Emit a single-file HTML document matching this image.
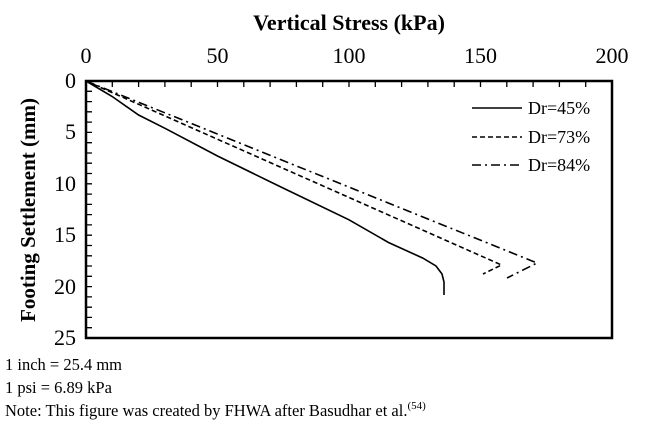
<!DOCTYPE html>
<html><head><style>body{margin:0;background:#fff}</style></head><body>
<svg width="663" height="426" xmlns="http://www.w3.org/2000/svg" font-family="Liberation Serif, serif">
<rect width="663" height="426" fill="#fff"/>
<text x="349" y="30" font-size="22" font-weight="bold" text-anchor="middle">Vertical Stress (kPa)</text>
<g font-size="22" text-anchor="middle">
<text x="86" y="63">0</text><text x="217.5" y="63">50</text><text x="349" y="63">100</text><text x="480.5" y="63">150</text><text x="612" y="63">200</text>
</g>
<g font-size="22" text-anchor="end">
<text x="76" y="88">0</text><text x="76" y="139">5</text><text x="76" y="191">10</text><text x="76" y="242">15</text><text x="76" y="294">20</text><text x="76" y="345">25</text>
</g>
<text transform="translate(35,210) rotate(-90)" font-size="21" font-weight="bold" text-anchor="middle">Footing Settlement (mm)</text>
<rect x="86" y="81" width="526" height="257" fill="none" stroke="#000" stroke-width="2.5"/>
<g stroke="#000" stroke-width="1.3">
<path d="M112.3 81v6M138.6 81v6M164.9 81v6M191.2 81v6M217.5 81v6M243.8 81v6M270.1 81v6M296.4 81v6M322.7 81v6M349 81v6M375.3 81v6M401.6 81v6M427.9 81v6M454.2 81v6M480.5 81v6M506.8 81v6M533.1 81v6M559.4 81v6M585.7 81v6"/>
<path d="M86 91.3h6M86 101.6h6M86 111.8h6M86 122.1h6M86 132.4h6M86 142.7h6M86 153h6M86 163.2h6M86 173.5h6M86 183.8h6M86 194.1h6M86 204.4h6M86 214.6h6M86 224.9h6M86 235.2h6M86 245.5h6M86 255.8h6M86 266h6M86 276.3h6M86 286.6h6M86 296.9h6M86 307.2h6M86 317.4h6M86 327.7h6"/>
</g>
<g fill="none" stroke="#000" stroke-width="1.6">
<path d="M86 81 L112 96.4 L138.6 115 L165 128.3 L217.5 156 L283 188 L349 219.8 L388.5 242.5 L422.6 258 L436 266 L442 274 L444 282 L444 295"/>
<path d="M86 81 L501.5 265 L483 274" stroke-dasharray="5,3"/>
<path d="M86 81 L537 263 L507 278" stroke-dasharray="9,4,2,4"/>
</g>
<g stroke="#000" stroke-width="1.6" fill="none">
<path d="M472 108h50"/><path d="M472 137h50" stroke-dasharray="5,3"/><path d="M472 165h50" stroke-dasharray="9,4,2,4"/>
</g>
<g font-size="18">
<text x="528" y="114">Dr=45%</text><text x="528" y="143">Dr=73%</text><text x="528" y="171">Dr=84%</text>
</g>
<g font-size="16.5">
<text x="5" y="370">1 inch = 25.4 mm</text>
<text x="5" y="393">1 psi = 6.89 kPa</text>
<text x="5" y="416">Note: This figure was created by FHWA after Basudhar et al.<tspan font-size="11" dy="-7">(54)</tspan></text>
</g>
</svg>
</body></html>
